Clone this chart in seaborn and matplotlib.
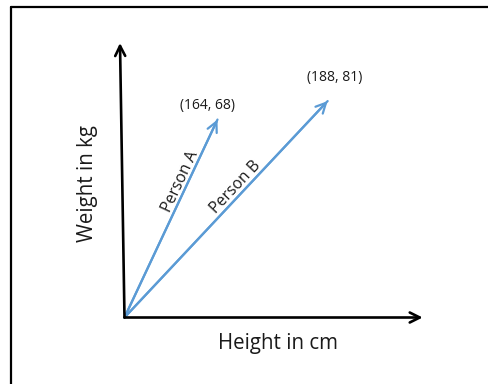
import matplotlib
matplotlib.use("Agg")
import matplotlib.pyplot as plt
import seaborn as sns
import pandas as pd
from matplotlib.lines import Line2D

# ---- data ----
persons = ["Person A", "Person B"]
heights = [164, 188]          # cm
weights = [68, 81]            # kg
point_labels = ["(164, 68)", "(188, 81)"]
x_label = "Height in cm"
y_label = "Weight in kg"

sns.set_theme(style="white")
plt.rcParams["font.family"] = ["Open Sans", "DejaVu Sans"]

W, H = 488, 384
fig = plt.figure(figsize=(W / 100, H / 100), dpi=100)
ax = fig.add_axes([0, 0, 1, 1])
ax.set_xlim(116.62, 222.93)
ax.set_ylim(-117.83, 152.02)
ax.axis("off")

# schematic origin of the sketch (arrows start here)
ox, oy = 143.74, -71.1
blue = "#5B9BD5"

# vector shafts via seaborn
rows = []
for p, h, w in zip(persons, heights, weights):
    rows.append({"person": p, "h": ox, "w": oy})
    rows.append({"person": p, "h": h, "w": w})
df = pd.DataFrame(rows)
sns.lineplot(data=df, x="h", y="w", units="person", estimator=None,
             color=blue, lw=1.6, ax=ax, sort=False, legend=False)

# arrowheads
for h, w in zip(heights, weights):
    ax.annotate("", xy=(h, w), xytext=(ox, oy),
                arrowprops=dict(arrowstyle="->,head_length=0.6,head_width=0.3",
                                color=blue, lw=1.6, shrinkA=0, shrinkB=0))

# coordinate axes arrows
ax.annotate("", xy=(208.7, oy), xytext=(ox, oy),
            arrowprops=dict(arrowstyle="->,head_length=0.6,head_width=0.3",
                            color="black", lw=1.9, shrinkA=0, shrinkB=0))
ax.annotate("", xy=(142.76, 121.8), xytext=(ox, oy),
            arrowprops=dict(arrowstyle="->,head_length=0.6,head_width=0.3",
                            color="black", lw=1.9, shrinkA=0, shrinkB=0))

# texts (pixel positions -> figure fractions)
def ft(x, y, s, **kw):
    fig.text(x / W, 1 - y / H, s, ha="center", va="center", color="#1a1a1a", **kw)

ft(278, 344, x_label, fontsize=14.8)
ft(87, 183, y_label, fontsize=14.8, rotation=90)
ft(180, 182, persons[0], fontsize=11.3, rotation=64.8, rotation_mode="anchor")
ft(236, 187, persons[1], fontsize=11.3, rotation=46.8, rotation_mode="anchor")
ft(207, 105, point_labels[0], fontsize=10)
ft(335, 78, point_labels[1], fontsize=10)

# frame
fig.add_artist(Line2D([11 / W, 11 / W], [0, 1 - 7 / H], color="black", lw=1.6,
                      transform=fig.transFigure))
fig.add_artist(Line2D([11 / W, 1], [1 - 7 / H, 1 - 7 / H], color="black", lw=1.6,
                      transform=fig.transFigure))

fig.savefig("out.png", dpi=100)
